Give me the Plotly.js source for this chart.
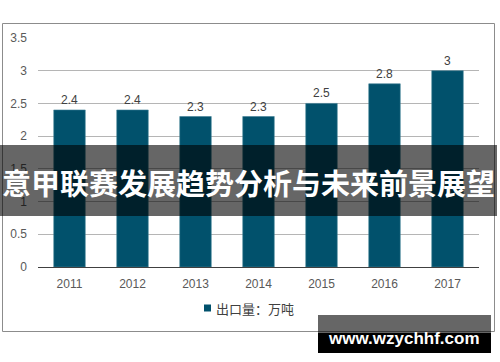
<!DOCTYPE html>
<html>
<head>
<meta charset="utf-8">
<script src="https://cdn.plot.ly/plotly-3.0.1.min.js"></script>
<style>html,body{margin:0;padding:0;background:#fff;}#chart{width:500px;height:362px;}</style>
</head>
<body>
<div id="chart"></div>
<script>
const years = ['2011','2012','2013','2014','2015','2016','2017'];
const exportVolume = [2.4, 2.4, 2.3, 2.3, 2.5, 2.8, 3];
const seriesName = '出口量：万吨';
const bannerText = '意甲联赛发展趋势分析与未来前景展望';
const watermarkText = 'www.wzychhf.com';
const yTicks = [0, 0.5, 1, 1.5, 2, 2.5, 3, 3.5];

const FW = 500, FH = 362, L = 38, R = 21, T = 38, B = 95;
const PW = FW - L - R, PH = FH - T - B;
const px = x => (x - L) / PW;
const py = y => (FH - B - y) / PH;
const FONT = 'Liberation Sans, Arial, Noto Sans CJK SC, sans-serif';
const BAR = '#01516c';

const trace = {
  type: 'bar',
  x: years,
  y: exportVolume,
  name: seriesName,
  marker: {color: BAR, line: {color: '#3f7f95', width: 0.6}},
  width: 0.5,
  text: exportVolume.map(v => String(v)),
  textposition: 'outside',
  textfont: {family: FONT, size: 12, color: '#404040'},
  cliponaxis: false,
  showlegend: false,
  hoverinfo: 'x+y'
};

const layout = {
  width: FW, height: FH,
  margin: {l: L, r: R, t: T, b: B, pad: 0},
  paper_bgcolor: '#ffffff',
  plot_bgcolor: '#ffffff',
  font: {family: FONT, size: 12, color: '#595959'},
  bargap: 0.5,
  showlegend: false,
  xaxis: {
    type: 'category', showgrid: false, ticks: '', showline: true,
    linecolor: '#404040', linewidth: 1,
    tickfont: {family: FONT, size: 12, color: '#595959'},
    ticklabelstandoff: 6
  },
  yaxis: {
    range: [0, 3.5], tickvals: yTicks, ticktext: yTicks.map(v => String(v)),
    showgrid: true, gridcolor: '#b5b5b5', gridwidth: 1,
    zeroline: true, zerolinecolor: '#404040', zerolinewidth: 1,
    showline: false, ticks: '',
    tickfont: {family: FONT, size: 12, color: '#595959'},
    ticklabelstandoff: 10
  },
  shapes: [
    {type: 'rect', xref: 'paper', yref: 'paper', layer: 'below',
     x0: px(2.5), x1: px(494.5), y0: py(331.5), y1: py(23.5),
     line: {color: '#8c8c8c', width: 1}, fillcolor: 'rgba(0,0,0,0)'},
    {type: 'rect', xref: 'paper', yref: 'paper', layer: 'above',
     x0: px(204), x1: px(211), y0: py(311.5), y1: py(304.5),
     line: {width: 0}, fillcolor: BAR},
    {type: 'rect', xref: 'paper', yref: 'paper', layer: 'above',
     x0: px(0), x1: px(497), y0: py(216), y1: py(145),
     line: {width: 0}, fillcolor: 'rgba(0,0,0,0.6)'},
    {type: 'rect', xref: 'paper', yref: 'paper', layer: 'above',
     x0: px(318), x1: px(491), y0: py(333), y1: py(315),
     line: {width: 0}, fillcolor: 'rgba(0,0,0,0.6)'},
    {type: 'rect', xref: 'paper', yref: 'paper', layer: 'above',
     x0: px(318), x1: px(491), y0: py(353), y1: py(333),
     line: {width: 0}, fillcolor: '#000000'}
  ],
  annotations: [
    {xref: 'paper', yref: 'paper', x: px(214), y: py(308), xanchor: 'left', yanchor: 'middle',
     text: seriesName, showarrow: false,
     font: {family: 'Noto Sans CJK SC, sans-serif', size: 13, color: '#404040'}},
    {xref: 'paper', yref: 'paper', x: px(248), y: py(182), xanchor: 'center', yanchor: 'middle',
     text: '<b>' + bannerText + '</b>', showarrow: false,
     font: {family: 'Noto Sans CJK SC, sans-serif', size: 29, color: '#ffffff'}},
    {xref: 'paper', yref: 'paper', x: px(404), y: py(338), xanchor: 'center', yanchor: 'middle',
     text: '<b>' + watermarkText + '</b>', showarrow: false,
     font: {family: 'Liberation Sans, Arial, sans-serif', size: 17, color: '#ffffff'}}
  ]
};

Plotly.newPlot('chart', [trace], layout, {displayModeBar: false, staticPlot: true});
</script>
</body>
</html>
